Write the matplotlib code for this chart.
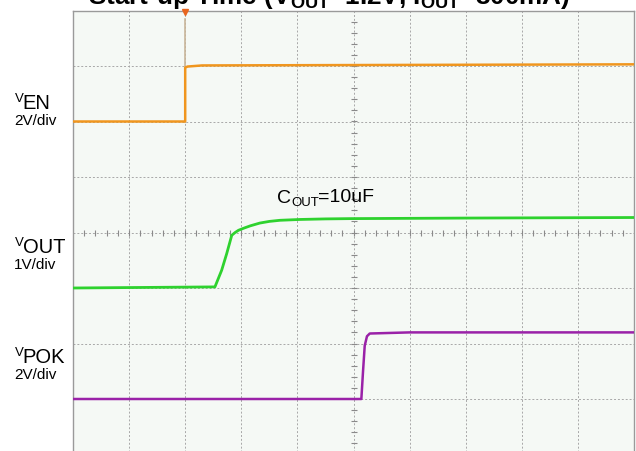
import numpy as np
import matplotlib
matplotlib.use("Agg")
import matplotlib.pyplot as plt

plt.rcParams['font.family'] = ['Liberation Sans', 'DejaVu Sans']
plt.rcParams['mathtext.fontset'] = 'custom'
plt.rcParams['mathtext.rm'] = 'Liberation Sans'
plt.rcParams['mathtext.bf'] = 'Liberation Sans:bold'

W, H = 636, 451

# traces, in scope divisions (x: 0..10, y: 0..8)
ven_t = [0.0, 2.0, 2.0, 2.04, 2.3, 10.0]
ven_v = [6.0, 6.0, 6.97, 6.99, 7.01, 7.03]
ven_edge_t = [2.0, 2.0]
ven_edge_v = [6.0, 7.85]

vout_t = [0.0, 2.53, 2.65, 2.74, 2.83, 2.89, 2.95, 3.05, 3.16, 3.33, 3.5, 3.69, 4.05, 4.5, 4.94, 7.0, 10.0]
vout_v = [3.0, 3.02, 3.32, 3.62, 3.95, 4.0, 4.04, 4.08, 4.12, 4.17, 4.2, 4.22, 4.235, 4.245, 4.25, 4.26, 4.27]

vpok_t = [0.0, 5.14, 5.17, 5.2, 5.24, 5.29, 6.0, 10.0]
vpok_v = [1.0, 1.0, 1.5, 1.96, 2.13, 2.18, 2.2, 2.2]

ch_names = ["EN", "OUT", "POK"]
ch_scales = ["2V/div", "1V/div", "2V/div"]
ch_label_y = [109, 253, 363]  # baseline of the big letters, in px

fig = plt.figure(figsize=(W / 100, H / 100), dpi=100)
fig.patch.set_facecolor("white")


def px(x, y):
    return x / W, 1 - y / H


ax = fig.add_axes([73 / W, 1 - 454.5 / H, 561 / W, 444 / H])
ax.set_facecolor("#f5f9f5")
ax.set_xlim(0, 10)
ax.set_ylim(0, 8)
ax.set_xticks([])
ax.set_yticks([])
for s in ax.spines.values():
    s.set_color("#9a9a9a")
    s.set_linewidth(1.0)

# graticule
for gx in range(1, 10):
    ax.axvline(gx, color="#a8a8a8", lw=0.7, ls=(0, (2, 2)), zorder=1)
for gy in range(1, 8):
    ax.axhline(gy, color="#a8a8a8", lw=0.7, ls=(0, (2, 2)), zorder=1)

# small ticks on the centre lines
tx = np.arange(0.2, 10, 0.2)
ax.plot(tx, np.full_like(tx, 4.0), ls="none", marker="|", ms=4, mew=0.8,
        color="#8a8a8a", zorder=1)
ty = np.arange(0.2, 8, 0.2)
ax.plot(np.full_like(ty, 5.0), ty, ls="none", marker="_", ms=4, mew=0.8,
        color="#8a8a8a", zorder=1)

# traces
ax.plot(ven_edge_t, ven_edge_v, color="#c9b69a", lw=1.2, zorder=2)
ax.plot(ven_t, ven_v, color="#f0961e", lw=1.8, zorder=3)
ax.plot(vout_t, vout_v, color="#2ed22e", lw=2.0, zorder=3)
ax.plot(vpok_t, vpok_v, color="#9a22a8", lw=1.8, zorder=3)

# trigger marker
ax.plot([2.0], [7.97], marker="v", ms=4, color="#e8651e", clip_on=False, zorder=4)

# channel labels
for name, scale, yb in zip(ch_names, ch_scales, ch_label_y):
    fig.text(*px(15, yb - 6.5), "V", fontsize=9.5, va="baseline", ha="left")
    fig.text(*px(22.5, yb), name, fontsize=14.5, va="baseline", ha="left")
    fig.text(*px(14, yb + 16), scale, fontsize=11, va="baseline", ha="left")

# COUT note
fig.text(*px(277, 203), "C", fontsize=14, va="baseline", ha="left")
fig.text(*px(291.5, 206), "OUT", fontsize=9.5, va="baseline", ha="left")
fig.text(*px(318, 201.5), "=10uF", fontsize=14, va="baseline", ha="left")

# title (cut off at the top like the source)
fig.text(*px(88, 4), r"Start-up Time (V$_{\mathbf{OUT}}$=1.2V, I$_{\mathbf{OUT}}$=300mA)",
         fontsize=18.8, fontweight="bold", va="baseline", ha="left")

fig.savefig("out.png", dpi=100)
